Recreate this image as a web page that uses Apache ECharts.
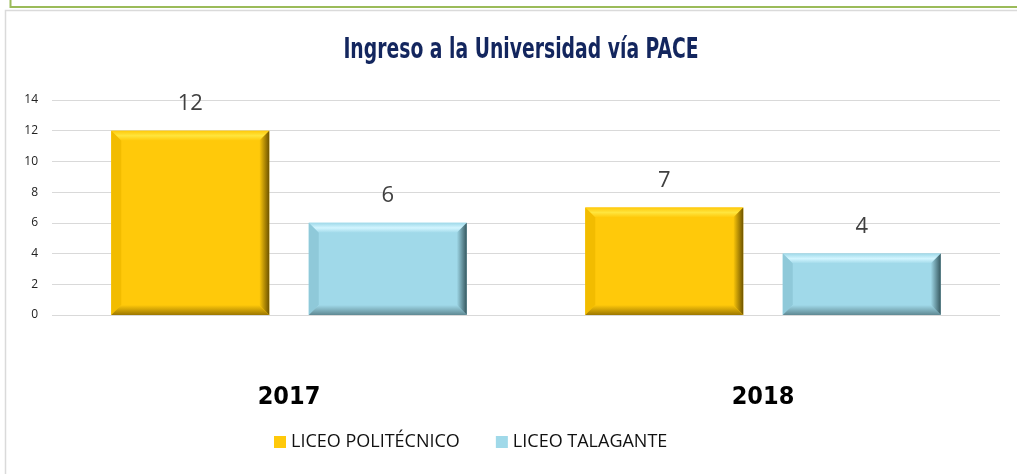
<!DOCTYPE html>
<html>
<head>
<meta charset="utf-8">
<script src="https://cdn.jsdelivr.net/npm/echarts@6/dist/echarts.min.js"></script>
<style>
  html, body { margin: 0; padding: 0; background: #fff; }
  #chart { width: 1017px; height: 474px; }
</style>
</head>
<body>
<div id="chart"></div>
<script>
// datos del gráfico
const years = ['2017', '2018']
const seriesNames = ['LICEO POLITÉCNICO', 'LICEO TALAGANTE']
const politecnico = [12, 7]
const talagante = [6, 4]
const yTicks = { min: 0, max: 14, step: 2 }
const titleText = 'Ingreso a la Universidad vía PACE'

// colores de bisel (cara, arriba, izquierda, derecha, abajo)
const palettes = [
  { face: '#FFC90A', top: '#FFE53D', left: '#F2BC00', right: '#6E5400', bottom: '#9C7700' },
  { face: '#A0D9E9', top: '#D2F5FF', left: '#8FC9D9', right: '#36585F', bottom: '#5F8993' }
]

const condensed = '"DejaVu Sans Condensed", "DejaVu Sans", sans-serif'
const barRatio = 1 / 3   // ancho de barra / ancho de categoría
const gapRatio = 0.25    // espacio entre barras / ancho de barra
const bevel = 10

const bevelRender = (idx) => (params, api) => {
  const x = api.value(0)
  const v = api.value(1)
  const base = api.coord([x, 0])
  const top = api.coord([x, v])
  const band = api.size([1, 0])[0]
  const w = band * barRatio
  const gap = w * gapRatio
  const cx = base[0] + (idx === 0 ? -(w + gap) / 2 : (w + gap) / 2)
  const x0 = cx - w / 2, x1 = cx + w / 2
  const y0 = top[1], y1 = base[1]
  const b = Math.min(bevel, (y1 - y0) / 2)
  const c = palettes[idx]
  const poly = (pts, fill) => ({ type: 'polygon', shape: { points: pts }, style: { fill: fill } })
  return {
    type: 'group',
    children: [
      { type: 'rect', shape: { x: x0, y: y0, width: w, height: y1 - y0 }, style: { fill: c.face } },
      poly([[x0, y0], [x1, y0], [x1 - b, y0 + b], [x0 + b, y0 + b]],
        new echarts.graphic.LinearGradient(0, 0, 0, 1, [{ offset: 0, color: c.face }, { offset: 0.5, color: c.top }, { offset: 1, color: c.face }])),
      poly([[x0, y0], [x0 + b, y0 + b], [x0 + b, y1 - b], [x0, y1]], c.left),
      poly([[x1, y0], [x1, y1], [x1 - b, y1 - b], [x1 - b, y0 + b]],
        new echarts.graphic.LinearGradient(0, 0, 1, 0, [{ offset: 0, color: c.face }, { offset: 1, color: c.right }])),
      poly([[x0, y1], [x0 + b, y1 - b], [x1 - b, y1 - b], [x1, y1]],
        new echarts.graphic.LinearGradient(0, 0, 0, 1, [{ offset: 0, color: c.face }, { offset: 1, color: c.bottom }])),
      {
        type: 'text',
        style: {
          text: String(v), x: cx, y: y0 - 27, align: 'center', verticalAlign: 'middle',
          font: '22px "Open Sans", sans-serif', fill: '#404040'
        }
      }
    ]
  }
}

const chart = echarts.init(document.getElementById('chart'))

const option = {
  animation: false,
  legend: {
    left: 269,
    bottom: 18,
    itemWidth: 12,
    itemHeight: 12,
    itemGap: 36,
    icon: 'rect',
    textStyle: { fontFamily: '"Open Sans", sans-serif', fontSize: 18, color: '#111' },
    data: seriesNames
  },
  grid: { left: 52, right: 17, top: 100, bottom: 159 },
  xAxis: {
    type: 'category',
    data: years,
    axisLine: { show: false },
    axisTick: { show: false },
    axisLabel: {
      margin: 70,
      fontFamily: condensed,
      fontWeight: 'bold',
      fontSize: 25,
      color: '#000'
    }
  },
  yAxis: {
    type: 'value',
    min: yTicks.min,
    max: yTicks.max,
    interval: yTicks.step,
    axisLine: { show: false },
    axisTick: { show: false },
    axisLabel: { margin: 14, fontFamily: '"Open Sans", sans-serif', fontSize: 12, color: '#222' },
    splitLine: { lineStyle: { color: '#D9D9D9', width: 1 } }
  },
  series: [politecnico, talagante].map((vals, i) => ({
    name: seriesNames[i],
    type: 'custom',
    renderItem: bevelRender(i),
    itemStyle: { color: palettes[i].face },
    encode: { x: 0, y: 1 },
    data: vals.map((v, k) => [k, v]),
    z: 3
  })),
  graphic: [
    { type: 'polyline', shape: { points: [[10.5, 0], [10.5, 7], [1017, 7]] }, style: { stroke: '#9BBB59', lineWidth: 2, fill: null } },
    { type: 'polyline', shape: { points: [[5.5, 474], [5.5, 10.5], [1017, 10.5]] }, style: { stroke: '#DADADA', lineWidth: 1.5, fill: null } },
    {
      // título condensado
      type: 'text',
      x: 521,
      y: 50,
      scaleX: 0.72,
      style: {
        text: titleText,
        x: 0,
        y: 0,
        align: 'center',
        verticalAlign: 'middle',
        font: 'bold 29px ' + condensed,
        fill: '#13265E'
      }
    }
  ]
}

chart.setOption(option)
</script>
</body>
</html>
